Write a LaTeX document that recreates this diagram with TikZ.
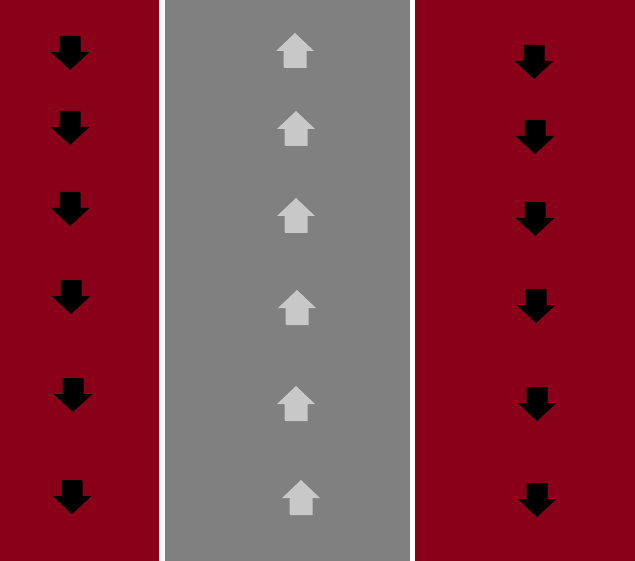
\documentclass[tikz,border=0pt]{standalone}
\definecolor{roadred}{HTML}{8A0018}
\definecolor{lanegray}{HTML}{808080}
\definecolor{arrowgray}{HTML}{C8C8C8}
\tikzset{
  downarr/.pic={\fill[black] (-10.5,0) -- (9.5,0) -- (10.5,1) -- (10.5,16) -- (19.5,16) -- (0,34) -- (-19.5,16) -- (-10.5,16) -- cycle;},
  uparr/.pic={\fill[arrowgray] (0,0) -- (19,18) -- (11.5,18) -- (11.5,35) -- (-10.5,35) -- (-11.5,34) -- (-11.5,18) -- (-19,18) -- cycle;}
}
\begin{document}
\begin{tikzpicture}[x=1bp,y=-1bp]
\useasboundingbox (0,0) rectangle (635,561);
% bands
\fill[roadred] (0,0) rectangle (159,561);
\fill[white] (159,0) rectangle (165,561);
\fill[lanegray] (165,0) rectangle (410,561);
\fill[white] (410,0) rectangle (415,561);
\fill[roadred] (415,0) rectangle (635,561);
% arrows
\foreach \x/\y in {70/36,70/111,70/192,71/280,73/378,72/480}
  \pic at (\x,\y) {downarr};
\foreach \x/\y in {295/33,296/111,296/198,297/290,296/386,301/480}
  \pic at (\x,\y) {uparr};
\foreach \x/\y in {534/45,535/120,535/202,536/289,537/387,537/483}
  \pic at (\x,\y) {downarr};
\end{tikzpicture}
\end{document}
